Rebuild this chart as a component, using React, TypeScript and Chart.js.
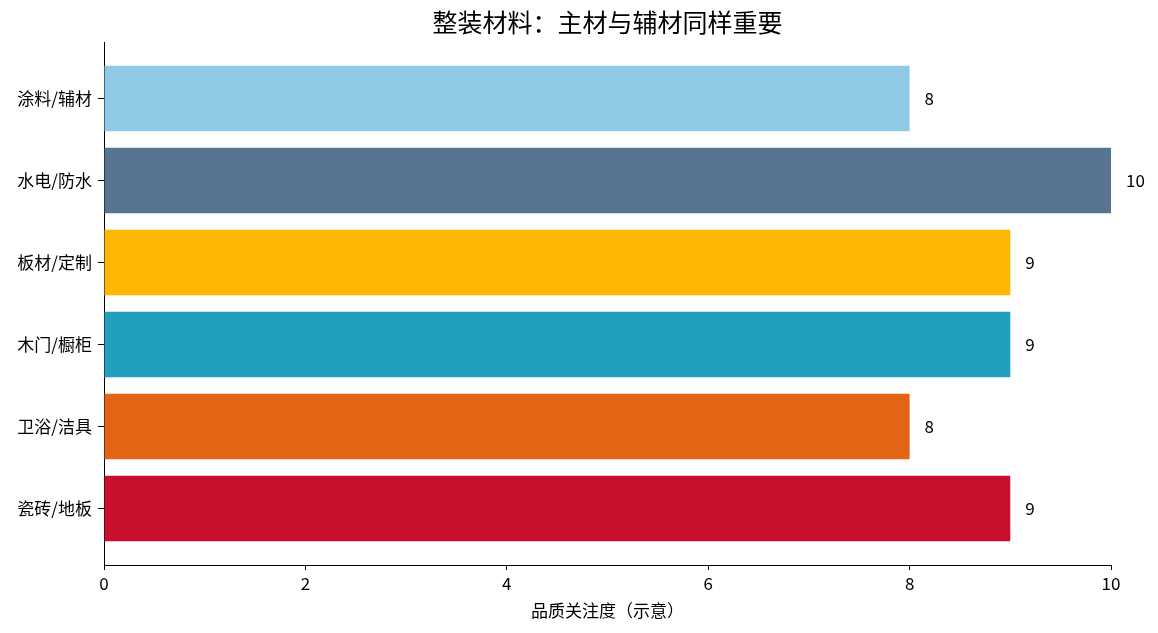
import React, { useEffect, useRef } from 'react';
import { Chart, registerables } from 'chart.js';

Chart.register(...registerables);

// bottom to top, as in the picture
const categories = ['瓷砖/地板', '卫浴/洁具', '木门/橱柜', '板材/定制', '水电/防水', '涂料/辅材'];
const scores = [9, 8, 9, 9, 10, 8];
const barColors = ['#C8102E', '#E36414', '#229EBF', '#FFB703', '#577590', '#8FC9E6'];
const xTicks = [0, 2, 4, 6, 8, 10];

const TITLE = '整装材料：主材与辅材同样重要';
const X_TITLE = '品质关注度（示意）';
const FONT = '"Noto Sans CJK SC", "Noto Sans", sans-serif';

const valueLabels = {
  id: 'valueLabels',
  afterDatasetsDraw(chart: any) {
    const { ctx } = chart;
    const meta = chart.getDatasetMeta(0);
    const xs = chart.scales.x;
    ctx.save();
    ctx.font = `17px ${FONT}`;
    ctx.fillStyle = '#000';
    ctx.textAlign = 'left';
    ctx.textBaseline = 'middle';
    meta.data.forEach((bar: any, i: number) => {
      const v = scores[i];
      ctx.fillText(String(v), xs.getPixelForValue(v) + 15, bar.y);
    });
    ctx.restore();
  },
};

const titlePlugin = {
  id: 'topTitle',
  afterDraw(chart: any) {
    const { ctx, chartArea } = chart;
    ctx.save();
    ctx.font = `25px ${FONT}`;
    ctx.fillStyle = '#000';
    ctx.textAlign = 'center';
    ctx.textBaseline = 'middle';
    ctx.fillText(TITLE, (chartArea.left + chartArea.right) / 2, 22);
    ctx.restore();
  },
};

const App: React.FC = () => {
  const canvasRef = useRef<HTMLCanvasElement>(null);

  useEffect(() => {
    if (!canvasRef.current) return;
    const chart = new Chart(canvasRef.current, {
      type: 'bar',
      data: {
        datasets: [{
          data: scores.map((v, i) => ({ x: v, y: i })),
          backgroundColor: barColors,
          borderWidth: 0,
          barPercentage: 0.8,
          categoryPercentage: 1,
        }],
      },
      options: {
        indexAxis: 'y',
        animation: false,
        responsive: true,
        maintainAspectRatio: false,
        layout: { padding: { top: 42, right: 47, bottom: 0, left: 0 } },
        plugins: {
          legend: { display: false },
          tooltip: { enabled: false },
          title: { display: false },
        },
        scales: {
          x: {
            type: 'linear',
            min: 0,
            max: 10,
            afterBuildTicks: (s: any) => { s.ticks = xTicks.map(v => ({ value: v })); },
            afterFit: (s: any) => { s.height = 68; },
            grid: { drawOnChartArea: false, drawTicks: true, tickLength: 5, color: '#000' },
            border: { display: true, color: '#000', width: 1 },
            ticks: { color: '#000', font: { family: FONT, size: 17 }, padding: 3 },
            title: {
              display: true,
              text: X_TITLE,
              color: '#000',
              font: { family: FONT, size: 17 },
              padding: { top: 4, bottom: 12 },
            },
          },
          y: {
            type: 'linear',
            min: -0.69,
            max: 5.69,
            offset: false,
            afterBuildTicks: (s: any) => { s.ticks = categories.map((_, i) => ({ value: i })); },
            afterFit: (s: any) => { s.width = 104; },
            grid: { offset: false, drawOnChartArea: false, drawTicks: true, tickLength: 6, color: '#000' },
            border: { display: true, color: '#000', width: 1 },
            ticks: {
              color: '#000',
              font: { family: FONT, size: 17 },
              padding: 6,
              callback: (v: any) => categories[Math.round(Number(v))] ?? '',
            },
          },
        },
      },
      plugins: [valueLabels, titlePlugin],
    });
    return () => chart.destroy();
  }, []);

  return (
    <div style={{ width: 1158, height: 633, position: 'absolute', left: 0, top: 0, background: '#fff' }}>
      <canvas ref={canvasRef}></canvas>
    </div>
  );
};

export default App;
